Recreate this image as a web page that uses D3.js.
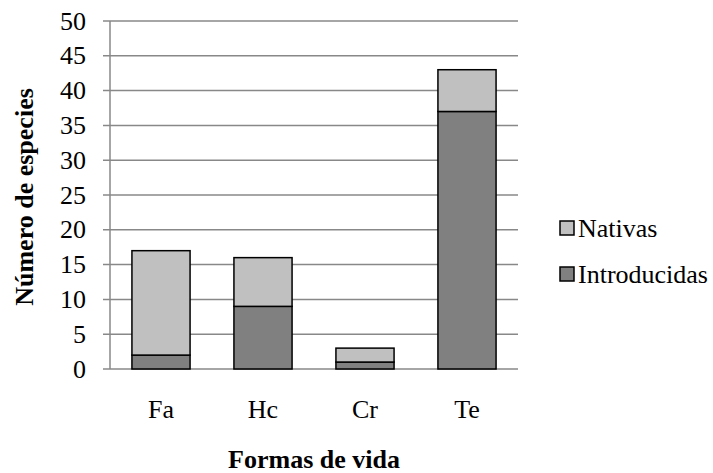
<!DOCTYPE html>
<html>
<head>
<meta charset="utf-8">
<script src="https://cdn.jsdelivr.net/npm/d3@7"></script>
<style>
  body { margin: 0; background: #fff; }
</style>
</head>
<body>
<div id="chart"></div>
<script>
var categories = ['Fa', 'Hc', 'Cr', 'Te'];
var introducidas = [2, 9, 1, 37];
var nativas = [15, 7, 2, 6];
var yTicks = [0, 5, 10, 15, 20, 25, 30, 35, 40, 45, 50];
var seriesNames = ['Nativas', 'Introducidas'];
var seriesColors = ['#c0c0c0', '#808080'];

var width = 713, height = 473;
var margin = {top: 21, left: 110, right: 195, bottom: 104};
var plotW = width - margin.left - margin.right;
var plotH = height - margin.top - margin.bottom;
var serif = "'Liberation Serif', 'Times New Roman', Times, serif";

var svg = d3.select('#chart').append('svg')
    .attr('width', width)
    .attr('height', height)
    .attr('font-family', serif)
    .style('font-family', serif);

var g = svg.append('g')
    .attr('transform', 'translate(' + margin.left + ',' + margin.top + ')');

var x = d3.scaleBand()
    .domain(categories)
    .range([0, plotW])
    .paddingInner(0.43)
    .paddingOuter(0.215);

var y = d3.scaleLinear()
    .domain([0, 50])
    .range([plotH, 0]);

// gridlines + tick labels
g.selectAll('line.grid')
    .data(yTicks)
    .enter().append('line')
    .attr('class', 'grid')
    .attr('x1', -7)
    .attr('x2', plotW)
    .attr('y1', function (d) { return y(d); })
    .attr('y2', function (d) { return y(d); })
    .attr('stroke', '#888')
    .attr('stroke-width', 1.5);

g.selectAll('text.ylab')
    .data(yTicks)
    .enter().append('text')
    .attr('class', 'ylab')
    .attr('x', -24)
    .attr('y', function (d) { return y(d); })
    .attr('dy', '0.33em')
    .attr('text-anchor', 'end')
    .style('font-size', '26px')
    .text(function (d) { return d; });

g.append('line')
    .attr('x1', 0).attr('x2', 0)
    .attr('y1', 0).attr('y2', plotH)
    .attr('stroke', '#888')
    .attr('stroke-width', 1.5);

var stacked = categories.map(function (c, i) {
    return {cat: c, intro: introducidas[i], nat: nativas[i]};
});

var bar = g.selectAll('g.bar')
    .data(stacked)
    .enter().append('g')
    .attr('class', 'bar');

bar.append('rect')
    .attr('x', function (d) { return x(d.cat); })
    .attr('y', function (d) { return y(d.intro); })
    .attr('width', x.bandwidth())
    .attr('height', function (d) { return y(0) - y(d.intro); })
    .attr('fill', seriesColors[1])
    .attr('stroke', '#000')
    .attr('stroke-width', 1.5);

bar.append('rect')
    .attr('x', function (d) { return x(d.cat); })
    .attr('y', function (d) { return y(d.intro + d.nat); })
    .attr('width', x.bandwidth())
    .attr('height', function (d) { return y(d.intro) - y(d.intro + d.nat); })
    .attr('fill', seriesColors[0])
    .attr('stroke', '#000')
    .attr('stroke-width', 1.5);

// x labels
g.selectAll('text.xlab')
    .data(categories)
    .enter().append('text')
    .attr('class', 'xlab')
    .attr('x', function (d) { return x(d) + x.bandwidth() / 2; })
    .attr('y', plotH + 49)
    .attr('text-anchor', 'middle')
    .style('font-size', '26px')
    .text(function (d) { return d; });

// axis titles
svg.append('text')
    .attr('x', 314)
    .attr('y', 468)
    .attr('text-anchor', 'middle')
    .style('font-size', '26px')
    .style('font-weight', 'bold')
    .text('Formas de vida');

svg.append('text')
    .attr('transform', 'translate(33,197)rotate(-90)')
    .attr('text-anchor', 'middle')
    .style('font-size', '26px')
    .style('font-weight', 'bold')
    .text('Número de especies');

// legend
var legend = svg.selectAll('g.legend')
    .data(seriesNames)
    .enter().append('g')
    .attr('class', 'legend')
    .attr('transform', function (d, i) { return 'translate(560,' + (221 + i * 46) + ')'; });

legend.append('rect')
    .attr('width', 14)
    .attr('height', 14)
    .attr('fill', function (d, i) { return seriesColors[i]; })
    .attr('stroke', '#000')
    .attr('stroke-width', 1.5);

legend.append('text')
    .attr('x', 18)
    .attr('y', 7)
    .attr('dy', '0.33em')
    .style('font-size', '26px')
    .text(function (d) { return d; });
</script>
</body>
</html>
